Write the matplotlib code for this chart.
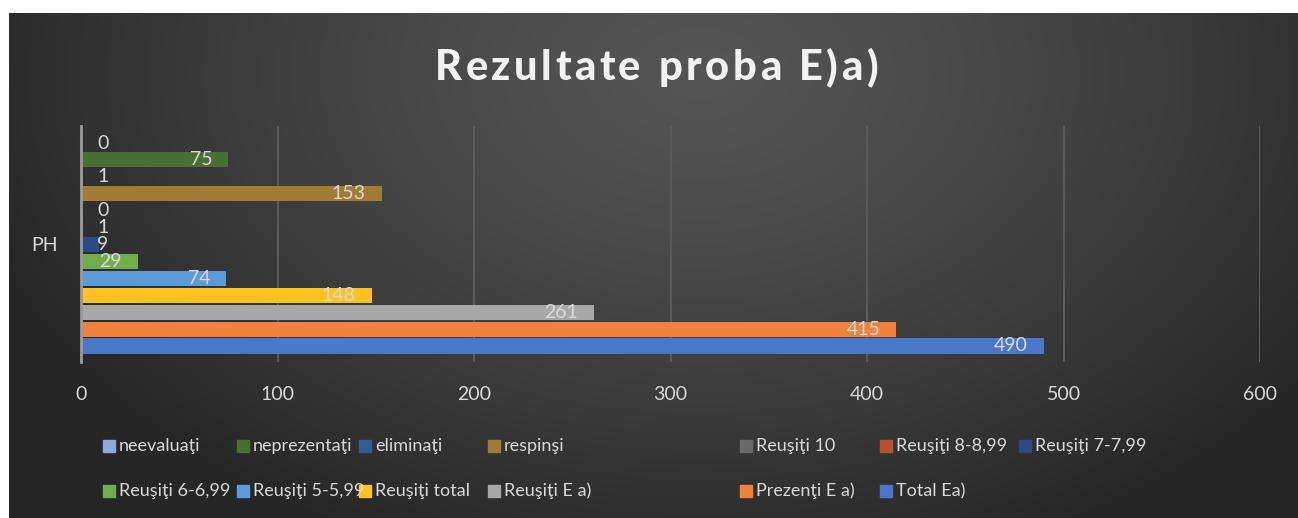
import matplotlib
matplotlib.use("Agg")
import matplotlib.pyplot as plt
from matplotlib.patches import Rectangle
import numpy as np

plt.rcParams['font.family'] = ['Lato', 'DejaVu Sans']

# series in legend order (first one is drawn at the top)
series = ['neevaluaţi', 'neprezentaţi', 'eliminaţi', 'respinşi', 'Reuşiţi 10',
          'Reuşiţi 8-8,99', 'Reuşiţi 7-7,99', 'Reuşiţi 6-6,99', 'Reuşiţi 5-5,99',
          'Reuşiţi total', 'Reuşiţi E a)', 'Prezenţi E a)', 'Total Ea)']
values = [0, 75, 1, 153, 0, 1, 9, 29, 74, 148, 261, 415, 490]
colors = ['#8eaadb', '#4b6e34', '#2f5d97', '#a07d35', '#6a6a6a',
          '#b5532a', '#2c4b84', '#72ad4c', '#5c9bd8', '#ffc220',
          '#a8a8a8', '#f0833b', '#4a77c8']
category = 'PH'
xticks = [0, 100, 200, 300, 400, 500, 600]
title = 'Rezultate proba E)a)'

W, H = 1298, 518
fig = plt.figure(figsize=(W / 100, H / 100), dpi=100)
fig.patch.set_facecolor('white')

# dark radial background of the chart area
bg = fig.add_axes([9 / W, 0, 1 - 9 / W, (H - 13) / H])
yy, xx = np.mgrid[0:505, 0:1289]
r = np.sqrt(((xx - 690) / 760.0) ** 2 + ((yy - 60) / 520.0) ** 2)
r = np.clip(r, 0, 1)
shade = 0x55 - (0x55 - 0x26) * r ** 1.3
img = np.dstack([shade, shade, shade]) / 255.0
bg.imshow(img, aspect='auto', interpolation='bilinear')
bg.axis('off')

ax = fig.add_axes([81 / W, (H - 362) / H, (1260 - 81) / W, (362 - 126) / H])
ax.set_facecolor('none')

n = len(series)
ypos = [n - 1 - i for i in range(n)]
ax.barh(ypos, values, height=0.89, color=colors, zorder=3)

px_per_unit = (1260 - 81) / 600.0
for v, y in zip(values, ypos):
    txt = str(v)
    if v * px_per_unit >= 32 + 12 * len(txt):
        ax.annotate(txt, xy=(v, y), xytext=(-16, 0), textcoords='offset pixels',
                    ha='right', va='center', color='#d9d9d9', fontsize=14, zorder=4)
    else:
        ax.annotate(txt, xy=(0, y), xytext=(16, 0), textcoords='offset pixels',
                    ha='left', va='center', color='#d9d9d9', fontsize=14, zorder=4)

ax.set_xlim(0, 600)
ax.set_ylim(-0.946, 13.005)
ax.set_xticks(xticks)
ax.set_xticklabels([str(t) for t in xticks])
ax.set_yticks([(n - 1) / 2])
ax.set_yticklabels([category])
ax.tick_params(axis='x', length=0, pad=17, labelsize=14, labelcolor='#d9d9d9')
ax.tick_params(axis='y', length=0, pad=17, labelsize=14, labelcolor='#d9d9d9')
ax.grid(axis='x', color='#5a5a5a', linewidth=1.5, zorder=0)
for s in ['top', 'right', 'bottom']:
    ax.spines[s].set_visible(False)
ax.spines['left'].set_color('#9a9a9a')
ax.spines['left'].set_linewidth(2)
ax.spines['left'].set_zorder(5)

# title with letter spacing, drawn char by char to fill ~443 px
renderer = fig.canvas.get_renderer()
tsize = 30
widths = []
for ch in title:
    t = fig.text(0, 0, ch if ch != ' ' else 'i', fontsize=tsize, fontweight='black')
    widths.append(t.get_window_extent(renderer).width)
    t.remove()
spacing = max(0, (443 - sum(widths)) / (len(title) - 1))
x = 435
for ch, w in zip(title, widths):
    if ch != ' ':
        fig.text(x / W, 1 - 80 / H, ch, ha='left', va='baseline',
                 fontsize=tsize, fontweight='black', color='#f2f2f2')
    x += w + spacing

# legend laid out like the original (two rows)
leg_x = [103, 237, 359, 488, 740, 880, 1019, 103, 237, 359, 488, 740, 880]
leg_y = [446] * 7 + [491] * 6
for name, c, lx, ly in zip(series, colors, leg_x, leg_y):
    fig.patches.append(Rectangle((lx / W, 1 - (ly + 6) / H), 12 / W, 12 / H,
                                 transform=fig.transFigure, color=c))
    fig.text((lx + 16) / W, 1 - ly / H, name, ha='left', va='center',
             fontsize=13, color='#d9d9d9')

fig.savefig('out.png', dpi=100)
